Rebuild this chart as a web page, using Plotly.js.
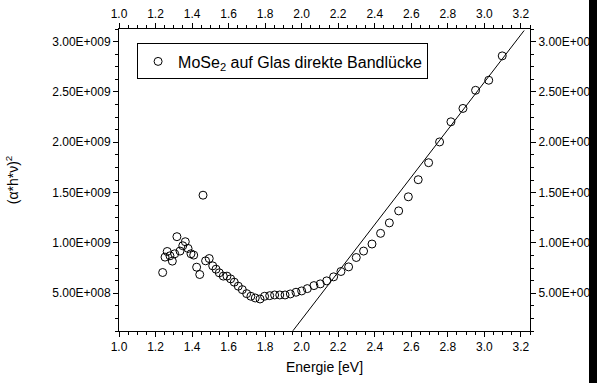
<!DOCTYPE html>
<html><head><meta charset="utf-8">
<script src="https://cdn.plot.ly/plotly-3.0.1.min.js"></script>
<style>
html,body{margin:0;padding:0;background:#fff;overflow:hidden}
#chart{width:597px;height:383px;position:absolute;left:0;top:0}
#bar{position:absolute;left:589px;top:0;width:8px;height:383px;background:#000;z-index:10}
</style>
</head><body><div id="chart"></div><div id="bar"></div>
<script>
const energy = [1.239,1.252,1.264,1.279,1.292,1.305,1.317,1.334,1.349,1.363,1.378,1.394,1.409,1.425,1.442,1.460,1.474,1.494,1.513,1.531,1.549,1.571,1.591,1.611,1.631,1.653,1.675,1.699,1.722,1.746,1.772,1.797,1.825,1.852,1.880,1.909,1.938,1.969,2.000,2.031,2.067,2.102,2.137,2.175,2.215,2.257,2.299,2.339,2.385,2.432,2.480,2.531,2.584,2.638,2.695,2.755,2.817,2.883,2.952,3.024,3.098];
const alphaHv2 = [7.06e8,8.59e8,9.15e8,8.72e8,8.19e8,8.92e8,1.062e9,9.19e8,9.72e8,1.012e9,9.45e8,8.92e8,8.79e8,7.59e8,6.86e8,1.474e9,8.22e8,8.45e8,7.72e8,7.39e8,7.03e8,6.70e8,6.70e8,6.43e8,6.10e8,5.70e8,5.36e8,4.96e8,4.70e8,4.53e8,4.43e8,4.70e8,4.76e8,4.83e8,4.83e8,4.83e8,4.93e8,5.10e8,5.23e8,5.46e8,5.76e8,5.93e8,6.23e8,6.63e8,7.16e8,7.62e8,8.55e8,9.19e8,9.89e8,1.095e9,1.199e9,1.318e9,1.458e9,1.628e9,1.797e9,2.003e9,2.203e9,2.336e9,2.516e9,2.616e9,2.858e9];
const fitEnergy = [1.952, 3.218];
const fitValue = [1.27e8, 3.11e9];
const yTickVals = [5e8,1e9,1.5e9,2e9,2.5e9,3e9];
const yTickText = ['5.00E+008','1.00E+009','1.50E+009','2.00E+009','2.50E+009','3.00E+009'];
const seriesName = 'MoSe<sub>2</sub> auf Glas direkte Bandlücke';

const xRange = [1.0, 3.25];
const yRange = [1.25e8, 3.125e9];
const FONT = 'Arial, "Liberation Sans", Helvetica, sans-serif';

function xAxis(extra){
  return Object.assign({
    range: xRange, tickmode:'linear', tick0:1, dtick:0.2, tickformat:'.1f',
    ticks:'outside', ticklen:5, tickwidth:1, tickcolor:'#000',
    showline:true, linecolor:'#000', linewidth:1, showgrid:false, zeroline:false,
    minor:{tickmode:'linear', tick0:1, dtick:0.05, ticks:'outside', ticklen:3, tickwidth:1, tickcolor:'#000', showgrid:false},
    tickfont:{size:12, color:'#000', family:FONT}
  }, extra);
}
function yAxis(extra){
  return Object.assign({
    range: yRange, tickmode:'array', tickvals:yTickVals, ticktext:yTickText,
    ticks:'outside', ticklen:5, tickwidth:1, tickcolor:'#000',
    showline:true, linecolor:'#000', linewidth:1, showgrid:false, zeroline:false,
    minor:{tickmode:'linear', tick0:0, dtick:1.25e8, ticks:'outside', ticklen:3, tickwidth:1, tickcolor:'#000', showgrid:false},
    tickfont:{size:12, color:'#000', family:FONT}
  }, extra);
}

const data = [
  {x: energy, y: alphaHv2, type:'scatter', mode:'markers', name: seriesName,
   marker:{symbol:'circle-open', size:8, color:'#000', line:{width:1, color:'#000'}}},
  {x: fitEnergy, y: fitValue, type:'scatter', mode:'lines', xaxis:'x2', yaxis:'y2',
   showlegend:false, line:{color:'#000', width:1}}
];

const layout = {
  width:597, height:383,
  margin:{l:119, r:67, t:29, b:52},
  paper_bgcolor:'#fff', plot_bgcolor:'#fff',
  font:{family:FONT, color:'#000', size:12},
  showlegend:true,
  legend:{x:0.044, y:0.952, xanchor:'left', yanchor:'top', bordercolor:'#000', borderwidth:1,
          bgcolor:'#fff', font:{size:16, family:FONT, color:'#000'}, tracegroupgap:0},
  xaxis: xAxis({title:{text:'Energie [eV]', font:{size:14, family:FONT, color:'#000'}, standoff:8}}),
  yaxis: yAxis({title:{text:'(α*h*ν)<sup>2</sup>', font:{size:14, family:FONT, color:'#000'}, standoff:30}}),
  xaxis2: xAxis({overlaying:'x', side:'top', anchor:'y2'}),
  yaxis2: yAxis({overlaying:'y', side:'right', anchor:'x2'})
};

Plotly.newPlot('chart', data, layout, {staticPlot:true, displayModeBar:false});
</script>
</body></html>
